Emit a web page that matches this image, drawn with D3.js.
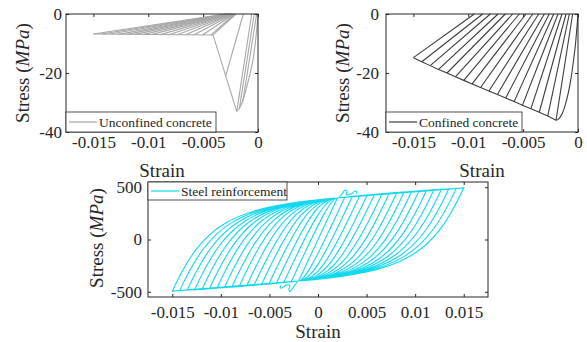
<!DOCTYPE html>
<html>
<head>
<meta charset="utf-8">
<script src="https://cdn.jsdelivr.net/npm/d3@7"></script>
<style>
  body { margin: 0; background: #fff; }
  text { font-family: "Liberation Serif", "Times New Roman", serif; fill: #262626; }
</style>
</head>
<body>
<svg id="chart" width="587" height="342"></svg>
<script>
// ---- data ----
// strain amplitudes of the loading cycles (absolute value)
var cycleStrain = [0.0020, 0.00276, 0.00353, 0.00429, 0.00506, 0.00582, 0.00659, 0.00735, 0.00812,
                   0.00888, 0.00965, 0.01041, 0.01118, 0.01194, 0.01271, 0.01347, 0.01424, 0.0150];

// unconfined concrete
var unconfRise = [[0, 0], [-0.0001, -4.5], [-0.00027, -10.6], [-0.0005, -16.5], [-0.00075, -20.6],
                  [-0.001, -24.3], [-0.00125, -27.7], [-0.0015, -30.4], [-0.00175, -32.3], [-0.00194, -33.0]];
var unconfFall = [[-0.00194, -33.0], [-0.0041, -7.1], [-0.0150, -6.8]];
var unconfUnloadStrain = [-0.0014, -0.0017, -0.00194, -0.00294, -0.0041, -0.00429, -0.00506, -0.00582, -0.00659,
                          -0.00735, -0.00812, -0.00888, -0.00965, -0.01041, -0.01118, -0.01194, -0.01271,
                          -0.01347, -0.01424, -0.0150];
var unconfUnloadStress = [-30.0, -32.0, -33.0, -21.0, -7.1, -7.1, -7.1, -7.0, -7.0, -7.0, -7.0, -7.0,
                          -6.9, -6.9, -6.9, -6.9, -6.9, -6.8, -6.8, -6.8];
var unconfResidual = [-0.00012, -0.00034, -0.00057, -0.00134, -0.0020, -0.00212, -0.00218, -0.00224, -0.0023,
                      -0.00236, -0.00242, -0.00248, -0.00254, -0.0026, -0.00266, -0.00272, -0.00278,
                      -0.00284, -0.0029, -0.00296];

// confined concrete
var confRise = [[0, 0], [-0.0001, -4.7], [-0.00024, -10.6], [-0.0004, -15.5], [-0.00064, -21.9],
                [-0.0009, -27.0], [-0.0012, -31.3], [-0.0015, -34.2], [-0.0018, -35.7], [-0.0020, -36.0]];
var confEnvStress = [-36.0, -34.6, -33.3, -32.1, -30.9, -29.7, -28.5, -27.3, -26.1,
                     -24.9, -23.7, -22.5, -21.3, -20.0, -18.8, -17.5, -16.2, -14.8];
var confResidual = [-0.00049, -0.00079, -0.00109, -0.00146, -0.00182, -0.00222, -0.00262, -0.00307, -0.00358,
                    -0.00413, -0.00474, -0.00535, -0.00596, -0.00663, -0.00729, -0.00799, -0.00869, -0.00945];

// steel reinforcement: stress at the positive / negative reversal of each cycle
var steelTopStress = [397, 405, 412, 419, 426, 432, 438, 444, 450, 456, 461, 466, 471, 476, 481, 485, 489, 493];
var steelBotStress = [-397, -405, -412, -419, -426, -432, -438, -444, -450, -456, -461, -466, -471, -476, -481, -485, -489, -493];
var steelModulus = 200000;     // elastic unloading slope (MPa)
// small overshoot loops seen near the first reversals
var steelHookTop = [[0.0022, 404], [0.0025, 440], [0.0027, 466], [0.0029, 472], [0.0030, 458], [0.0029, 432],
                    [0.0034, 436], [0.0037, 458], [0.0039, 464], [0.0040, 450], [0.0039, 440]];
var steelHookBot = [[-0.0021, -402], [-0.0024, -440], [-0.0027, -476], [-0.0029, -496], [-0.0030, -480],
                    [-0.0029, -440], [-0.0033, -436], [-0.0036, -458], [-0.0038, -466], [-0.0039, -452], [-0.0038, -440]];

var concreteXTicks = [-0.015, -0.01, -0.005, 0];
var concreteXLabels = ["-0.015", "-0.01", "-0.005", "0"];
var concreteYTicks = [-40, -20, 0];
var concreteYLabels = ["-40", "-20", "0"];
var steelXTicks = [-0.015, -0.01, -0.005, 0, 0.005, 0.01, 0.015];
var steelXLabels = ["-0.015", "-0.01", "-0.005", "0", "0.005", "0.01", "0.015"];
var steelYTicks = [-500, 0, 500];
var steelYLabels = ["-500", "0", "500"];

var svg = d3.select("#chart");
var axisColor = "#262626";
var serif = "'Liberation Serif', 'Times New Roman', serif";

// draw a boxed axes with inward ticks, mirrored on top and right
function drawAxes(opt) {
    var g = svg.append("g");
    var x = opt.x, y = opt.y;
    var x0 = x.range()[0], x1 = x.range()[1], y0 = y.range()[0], y1 = y.range()[1];

    var bottom = d3.axisBottom(x).tickValues(opt.xTicks)
        .tickFormat(function(d, i) { return opt.xLabels[i]; })
        .tickSizeInner(-3).tickSizeOuter(0).tickPadding(opt.xPad);
    var left = d3.axisLeft(y).tickValues(opt.yTicks)
        .tickFormat(function(d, i) { return opt.yLabels[i]; })
        .tickSizeInner(-3).tickSizeOuter(0).tickPadding(opt.yPad);
    var top = d3.axisTop(x).tickValues(opt.xTicks).tickFormat("").tickSizeInner(-3).tickSizeOuter(0);
    var right = d3.axisRight(y).tickValues(opt.yTicks).tickFormat("").tickSizeInner(-3).tickSizeOuter(0);

    g.append("g").attr("transform", "translate(0," + y0 + ")").call(bottom);
    g.append("g").attr("transform", "translate(" + x0 + ",0)").call(left);
    g.append("g").attr("transform", "translate(0," + y1 + ")").call(top);
    g.append("g").attr("transform", "translate(" + x1 + ",0)").call(right);

    g.selectAll("g").attr("font-family", serif).attr("font-size", 17);
    g.selectAll(".domain").remove();
    g.selectAll(".tick line").attr("stroke", axisColor);
    g.selectAll(".tick text").attr("fill", axisColor);

    g.append("rect")
        .attr("x", x0).attr("y", y1)
        .attr("width", x1 - x0).attr("height", y0 - y1)
        .attr("fill", "none").attr("stroke", axisColor).attr("stroke-width", 1);

    // axis titles
    svg.append("text")
        .attr("x", (x0 + x1) / 2).attr("y", opt.xTitleY)
        .attr("text-anchor", "middle").style("font-size", "19px")
        .text("Strain");
    var yt = svg.append("text")
        .attr("transform", "translate(" + opt.yTitleX + "," + opt.yTitleCy + ") rotate(-90)")
        .attr("text-anchor", "middle").style("font-size", "19px");
    yt.append("tspan").text("Stress (");
    yt.append("tspan").style("font-style", "italic").text("MPa");
    yt.append("tspan").text(")");
}

function drawLegend(x0, y0, w, h, color, label) {
    var g = svg.append("g");
    g.append("rect").attr("x", x0).attr("y", y0).attr("width", w).attr("height", h)
        .attr("fill", "#fff").attr("stroke", axisColor).attr("stroke-width", 0.8);
    g.append("line").attr("x1", x0 + 3).attr("x2", x0 + 31)
        .attr("y1", y0 + h / 2).attr("y2", y0 + h / 2)
        .attr("stroke", color).attr("stroke-width", 1.2);
    g.append("text").attr("x", x0 + 33).attr("y", y0 + h / 2 + 4.6)
        .style("font-size", "13.5px").text(label);
}

// ---- unconfined concrete (top left) ----
var xU = d3.scaleLinear().domain([-0.0175, 0]).range([66, 258]);
var yU = d3.scaleLinear().domain([-40, 0]).range([132, 14]);
var unconfColor = "#a6a6a6";
var lineU = d3.line().x(function(d) { return xU(d[0]); }).y(function(d) { return yU(d[1]); });

var gU = svg.append("g").attr("fill", "none").attr("stroke", unconfColor).attr("stroke-width", 1.1);
gU.append("path").attr("d", lineU.curve(d3.curveCatmullRom)(unconfRise));
gU.append("path").attr("d", lineU.curve(d3.curveLinear)(unconfFall));
unconfUnloadStrain.forEach(function(s, i) {
    gU.append("path").attr("d", lineU([[s, unconfUnloadStress[i]], [unconfResidual[i], 0]]));
});
drawAxes({ x: xU, y: yU, xTicks: concreteXTicks, xLabels: concreteXLabels, yTicks: concreteYTicks,
           yLabels: concreteYLabels, xPad: 4, yPad: 4, xTitleY: 177, yTitleX: 29, yTitleCy: 73 });
drawLegend(66, 112, 150, 20, unconfColor, "Unconfined concrete");

// ---- confined concrete (top right) ----
var xC = d3.scaleLinear().domain([-0.0175, 0]).range([386, 578]);
var yC = d3.scaleLinear().domain([-40, 0]).range([132, 14]);
var confColor = "#3c3c3c";
var lineC = d3.line().x(function(d) { return xC(d[0]); }).y(function(d) { return yC(d[1]); });

var gC = svg.append("g").attr("fill", "none").attr("stroke", confColor).attr("stroke-width", 1.1);
gC.append("path").attr("d", lineC.curve(d3.curveCatmullRom)(confRise));
var confEnv = cycleStrain.map(function(s, i) { return [-s, confEnvStress[i]]; });
gC.append("path").attr("d", lineC.curve(d3.curveLinear)(confEnv));
confEnv.forEach(function(p, i) {
    gC.append("path").attr("d", lineC([p, [confResidual[i], 0]]));
});
drawAxes({ x: xC, y: yC, xTicks: concreteXTicks, xLabels: concreteXLabels, yTicks: concreteYTicks,
           yLabels: concreteYLabels, xPad: 4, yPad: 7, xTitleY: 177, yTitleX: 349, yTitleCy: 73 });
drawLegend(386, 112, 136, 20, confColor, "Confined concrete");

// ---- steel reinforcement (bottom) ----
var xS = d3.scaleLinear().domain([-0.0175, 0.0175]).range([148, 488]);
var yS = d3.scaleLinear().domain([-550, 550]).range([297, 182]);
var steelColor = "#12d9ef";
var lineS = d3.line().x(function(d) { return xS(d[0]); }).y(function(d) { return yS(d[1]); })
    .curve(d3.curveCatmullRom);

var n = cycleStrain.length;
var hardening = (steelTopStress[n - 1] - steelTopStress[0]) / (cycleStrain[n - 1] - cycleStrain[0]);
var topJoin = [cycleStrain[0], steelTopStress[0]];
var botJoin = [-cycleStrain[0], steelBotStress[0]];

// reversal branch: leaves r along the elastic slope, joins m along the hardening slope
function branch(p, r, m) {
    var ec = (m[1] - hardening * m[0] - r[1] + steelModulus * r[0]) / (steelModulus - hardening);
    var sc = r[1] + steelModulus * (ec - r[0]);
    var c1 = [r[0] + 0.8 * (ec - r[0]), r[1] + 0.8 * (sc - r[1])];
    var c2 = [m[0] + 0.85 * (ec - m[0]), m[1] + 0.85 * (sc - m[1])];
    p.bezierCurveTo(xS(c1[0]), yS(c1[1]), xS(c2[0]), yS(c2[1]), xS(m[0]), yS(m[1]));
}

var sp = d3.path();
sp.moveTo(xS(0), yS(0));
sp.lineTo(xS(cycleStrain[0]), yS(steelTopStress[0]));
for (var k = 0; k < n; k++) {
    var up = [cycleStrain[k], steelTopStress[k]];
    var dn = [-cycleStrain[k], steelBotStress[k]];
    if (k > 0) sp.lineTo(xS(up[0]), yS(up[1]));
    branch(sp, up, botJoin);
    sp.lineTo(xS(dn[0]), yS(dn[1]));
    branch(sp, dn, topJoin);
}
var gS = svg.append("g").attr("fill", "none").attr("stroke", steelColor).attr("stroke-width", 1.1);
gS.append("path").attr("d", sp.toString());
gS.append("path").attr("d", lineS(steelHookTop));
gS.append("path").attr("d", lineS(steelHookBot));

drawAxes({ x: xS, y: yS, xTicks: steelXTicks, xLabels: steelXLabels, yTicks: steelYTicks,
           yLabels: steelYLabels, xPad: 9, yPad: 6, xTitleY: 338, yTitleX: 103, yTitleCy: 238 });
drawLegend(148, 182, 139, 18, steelColor, "Steel reinforcement");
</script>
</body>
</html>
